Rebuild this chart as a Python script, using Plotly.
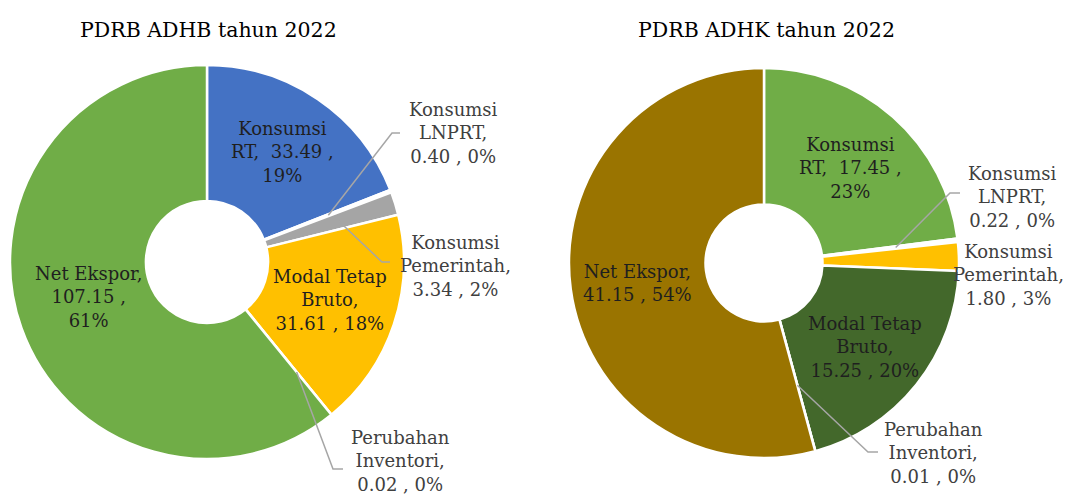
import math
import plotly.graph_objects as go

# ---------------- data ----------------
categories = ["Konsumsi RT", "Konsumsi LNPRT", "Konsumsi Pemerintah",
              "Modal Tetap Bruto", "Perubahan Inventori", "Net Ekspor"]
adhb_values = [33.49, 0.40, 3.34, 31.61, 0.02, 107.15]
adhk_values = [17.45, 0.22, 1.80, 15.25, 0.01, 41.15]
adhb_pct = ["19%", "0%", "2%", "18%", "0%", "61%"]
adhk_pct = ["23%", "0%", "3%", "20%", "0%", "54%"]
# label text lines (name parts) as printed on the chart
adhb_label_names = [["Konsumsi", "RT,"], ["Konsumsi", "LNPRT,"], ["Konsumsi", "Pemerintah,"],
                    ["Modal Tetap", "Bruto,"], ["Perubahan", "Inventori,"], ["Net Ekspor,"]]
adhk_label_names = [["Konsumsi", "RT,"], ["Konsumsi", "LNPRT,"], ["Konsumsi", "Pemerintah,"],
                    ["Modal Tetap", "Bruto,"], ["Perubahan", "Inventori,"], ["Net Ekspor,"]]
titles = ["PDRB ADHB tahun 2022", "PDRB ADHK tahun 2022"]

adhb_colors = ["#4472C4", "#FFFFFF", "#A5A5A5", "#FFC000", "#FFFFFF", "#70AD47"]
adhk_colors = ["#70AD47", "#FFFFFF", "#FFC000", "#43682B", "#FFFFFF", "#9A7400"]

W, H = 1065, 496
FONT = "DejaVu Serif"


def px(x):
    return x / W


def py(y):
    return 1 - y / H


def label_text(names, value, pct, style):
    if style == "rt":
        return f"{names[0]}<br>{names[1]}  {value:.2f} ,<br>{pct}"
    if style == "net3":
        return f"{names[0]}<br>{value:.2f} ,<br>{pct}"
    if style == "net2":
        return f"{names[0]}<br>{value:.2f} , {pct}"
    return f"{names[0]}<br>{names[1]}<br>{value:.2f} , {pct}"


fig = go.Figure()

charts = [
    dict(values=adhb_values, colors=adhb_colors, pct=adhb_pct, names=adhb_label_names,
         cx=207, cy=262, r=197, hole=0.31, title=titles[0], tx=208,
         styles=["rt", "o", "o", "o", "o", "net3"],
         pos=[(282, 152), (453, 133), (455, 266), (330, 300), (400, 461), (88, 297)],
         leaders={1: ((392, 133), (400, 133), 0.66),
                  2: ((382, 262), (390, 262), 0.70),
                  4: ((333, 469), (343, 469), 0.72)}),
    dict(values=adhk_values, colors=adhk_colors, pct=adhk_pct, names=adhk_label_names,
         cx=764, cy=263, r=195, hole=0.30, title=titles[1], tx=766,
         styles=["rt", "o", "o", "o", "o", "net2"],
         pos=[(850, 168), (1012, 197), (1008, 275), (865, 347), (933, 453), (637, 283)],
         leaders={1: ((950, 193), (960, 193), 0.68),
                  4: ((868, 452), (878, 452), 0.65)}),
]

annotations = []
shapes = []
for c in charts:
    cx, cy, r = c["cx"], c["cy"], c["r"]
    fig.add_trace(go.Pie(
        labels=categories, values=c["values"], sort=False, direction="clockwise",
        rotation=0, hole=c["hole"],
        marker=dict(colors=c["colors"], line=dict(color="white", width=2.5)),
        textinfo="none", hoverinfo="label+value+percent", showlegend=False,
        domain=dict(x=[px(cx - r), px(cx + r)], y=[py(cy + r), py(cy - r)]),
    ))
    annotations.append(dict(x=px(c["tx"]), y=py(30), xref="paper", yref="paper",
                            xanchor="center", yanchor="middle",
                            text=c["title"], showarrow=False,
                            font=dict(family=FONT, size=20.5, color="#000000")))
    total = sum(c["values"])
    cum = 0.0
    for i, v in enumerate(c["values"]):
        mid = (cum + v / 2) / total * 2 * math.pi
        cum += v
        inside = i in (0, 3, 5)
        tx, ty = c["pos"][i]
        annotations.append(dict(
            x=px(tx), y=py(ty), xref="paper", yref="paper",
            xanchor="center", yanchor="middle",
            text=label_text(c["names"][i], v, c["pct"][i], c["styles"][i]),
            showarrow=False, align="center",
            font=dict(family=FONT, size=18, color="#1f1f1f" if inside else "#404040"),
        ))
        if i in c["leaders"]:
            (ex, ey), (hx, hy), frac = c["leaders"][i]
            sx = cx + frac * r * math.sin(mid)
            sy = cy - frac * r * math.cos(mid)
            shapes.append(dict(type="path", xref="paper", yref="paper",
                               path=f"M {px(sx)},{py(sy)} L {px(ex)},{py(ey)} L {px(hx)},{py(hy)}",
                               line=dict(color="#A6A6A6", width=1.5)))

fig.update_layout(
    width=W, height=H, margin=dict(l=0, r=0, t=0, b=0),
    paper_bgcolor="white", plot_bgcolor="white",
    annotations=annotations, shapes=shapes,
)

fig.write_html("out.html", config={"displayModeBar": False},
               post_script="document.body.style.margin='0';document.body.style.padding='0';")
